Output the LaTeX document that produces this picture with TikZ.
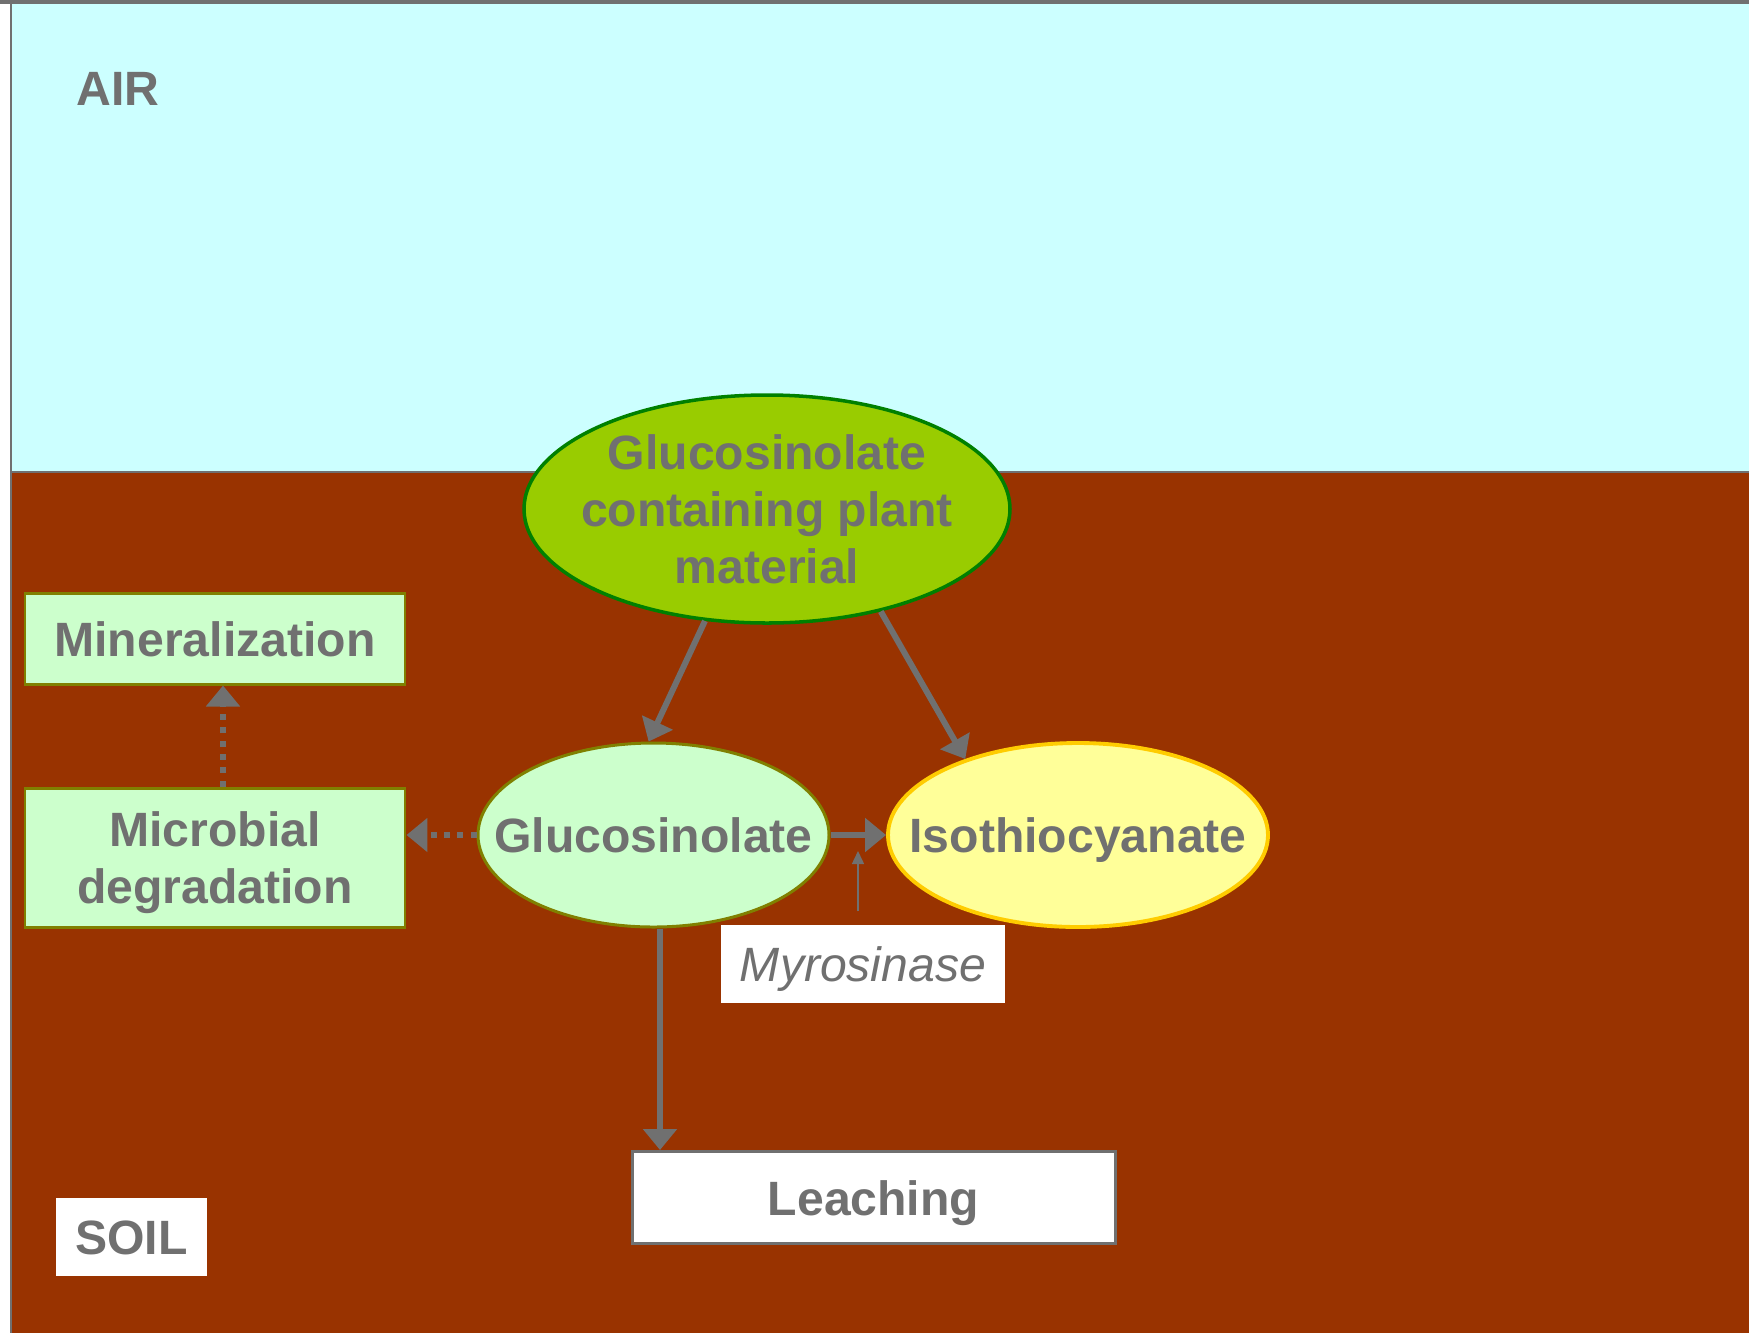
\documentclass[tikz,border=0pt]{standalone}
\usepackage{fontspec}
\setmainfont{Liberation Sans}
\usetikzlibrary{shapes.geometric, arrows.meta}
\definecolor{airblue}{RGB}{204,255,255}
\definecolor{soilbrown}{RGB}{153,51,0}
\definecolor{txtgray}{RGB}{112,112,112}
\definecolor{plantgreen}{RGB}{153,204,0}
\definecolor{darkgreen}{RGB}{0,128,0}
\definecolor{palegreen}{RGB}{204,255,204}
\definecolor{boxolive}{RGB}{128,128,0}
\definecolor{paleyellow}{RGB}{255,255,153}
\definecolor{goldline}{RGB}{255,204,0}
\newcommand{\slim}[1]{\makebox[0pt]{#1}}
\tikzstyle{oneline} = [text height=0.35cm, text depth=0pt]
\tikzstyle{source} = [ellipse, draw=darkgreen, line width=1pt, fill=plantgreen, minimum width=4.86cm, minimum height=2.28cm, inner sep=0pt, align=center]
\tikzstyle{compound} = [ellipse, oneline, draw=boxolive, line width=0.85pt, fill=palegreen, minimum width=3.51cm, minimum height=1.84cm, inner sep=0pt]
\tikzstyle{product} = [ellipse, oneline, draw=goldline, line width=1.1pt, fill=paleyellow, minimum width=3.8cm, minimum height=1.84cm, inner sep=0pt]
\tikzstyle{process} = [rectangle, draw=boxolive, line width=0.85pt, fill=palegreen, minimum width=3.8cm, inner sep=0pt, align=center]
\tikzstyle{fate} = [rectangle, oneline, draw=txtgray, line width=0.85pt, fill=white, minimum width=4.83cm, minimum height=0.92cm, inner sep=0pt]
\tikzstyle{zone} = [rectangle, oneline, fill=white, inner sep=0pt]
\tikzstyle{arrow} = [draw=txtgray, line width=1.7pt, -{Triangle[length=0.21cm,width=0.33cm]}]
\tikzstyle{dotarrow} = [arrow, dash pattern=on 0.06cm off 0.073cm]
\tikzstyle{thinarrow} = [draw=txtgray, line width=0.45pt, -{Triangle[length=0.13cm,width=0.12cm]}]

\begin{document}
\begin{tikzpicture}
[nodes = {text=txtgray, text depth=0pt, font=\fontsize{13.7}{16.2}\selectfont\bfseries},]
\useasboundingbox (0,0) rectangle (17.49,-13.33);

% air and soil
\fill[white] (0,0) rectangle (17.49,-13.33);
\fill[airblue] (0.11,0) rectangle (17.49,-4.72);
\fill[soilbrown] (0.11,-4.72) rectangle (17.49,-13.33);
\draw[txtgray, line width=0.7pt] (0.11,-4.72) -- (17.49,-4.72);
\fill[txtgray] (0,0) rectangle (17.49,-0.035);
\fill[txtgray] (0.10,0) rectangle (0.12,-13.33);

\node (air) [anchor=base west, inner sep=0pt] at (0.76,-1.05) {AIR};
\node (plant) [source] at (7.67,-5.09) {\slim{Glucosinolate}\\\slim{containing plant}\\\slim{material}};
\node (gluc) [compound] at (6.535,-8.35) {\slim{Glucosinolate}};
\node (iso) [product] at (10.78,-8.35) {\slim{Isothiocyanate}};
\node (mineral) [process, oneline, minimum height=0.91cm] at (2.15,-6.385) {Mineralization};
\node (micro) [process, minimum height=1.39cm] at (2.15,-8.575) {Microbial\\degradation};
\node (myro) [zone, minimum width=2.84cm, minimum height=0.78cm, font=\fontsize{13.7}{16.2}\selectfont\itshape] at (8.63,-9.64) {Myrosinase};
\node (leach) [fate] at (8.735,-11.975) {Leaching};
\node (soil) [zone, minimum width=1.51cm, minimum height=0.78cm] at (1.315,-12.37) {SOIL};
\coordinate (myrotip) at (8.58,-8.51);

\draw [arrow] (plant.241.5) -- (gluc.93);
\draw [arrow] (plant.-42.8) -- (iso.146);
\draw [arrow] (gluc.east) -- (iso.west);
\draw [arrow] ([xshift=0.065cm]gluc.south) -- ([xshift=0.065cm]gluc.south |- leach.north);
\draw [dotarrow] (gluc.west) -- (gluc.west -| micro.east);
\draw [dotarrow] ([xshift=0.08cm]micro.north) -- ([xshift=0.08cm]mineral.south);
\draw [thinarrow] ([xshift=-0.05cm,yshift=0.13cm]myro.north) -- (myrotip);
\end{tikzpicture}
\end{document}
